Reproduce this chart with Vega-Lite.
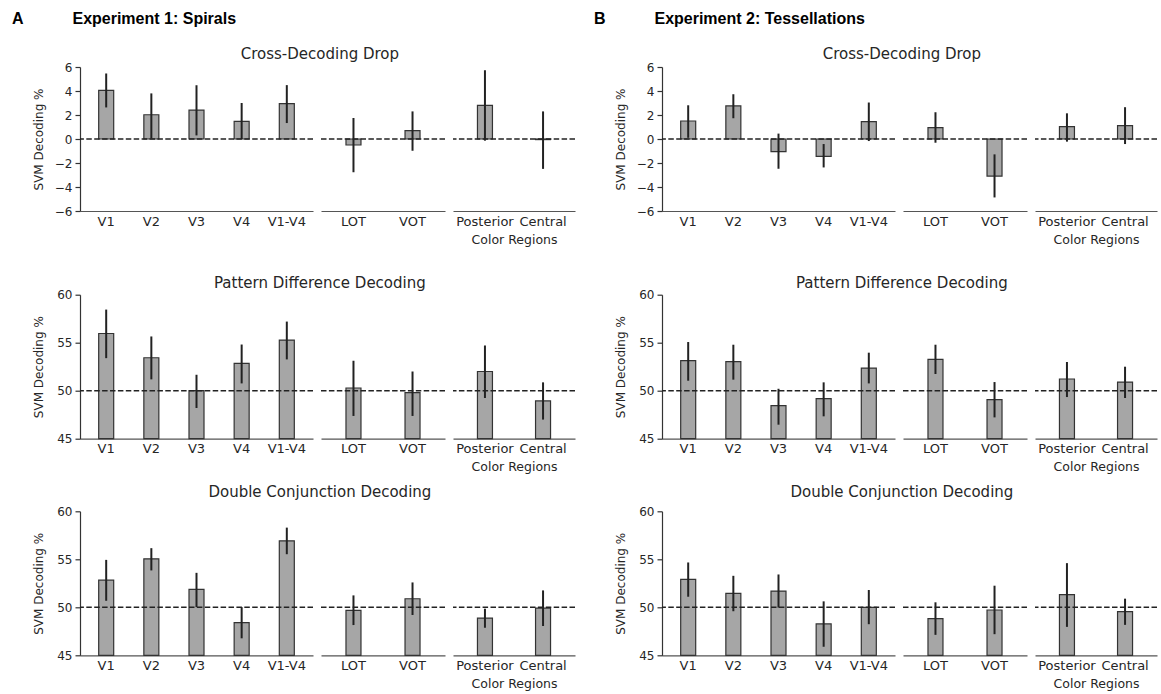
{
  "$schema": "https://vega.github.io/schema/vega-lite/v6.json",
  "padding": {"left": 12, "top": 10, "right": 2, "bottom": 2},
  "datasets": {
    "d": [
      {"exp": "E1", "measure": "cross", "grp": "early", "region": "V1", "mean": 4.05, "lo": 2.63, "hi": 5.46},
      {"exp": "E1", "measure": "cross", "grp": "early", "region": "V2", "mean": 2.02, "lo": 0.05, "hi": 3.8},
      {"exp": "E1", "measure": "cross", "grp": "early", "region": "V3", "mean": 2.41, "lo": 0.3, "hi": 4.48},
      {"exp": "E1", "measure": "cross", "grp": "early", "region": "V4", "mean": 1.47, "lo": 0.0, "hi": 3.0},
      {"exp": "E1", "measure": "cross", "grp": "early", "region": "V1-V4", "mean": 2.94, "lo": 1.33, "hi": 4.49},
      {"exp": "E1", "measure": "cross", "grp": "ot", "region": "LOT", "mean": -0.5, "lo": -2.77, "hi": 1.75},
      {"exp": "E1", "measure": "cross", "grp": "ot", "region": "VOT", "mean": 0.69, "lo": -0.98, "hi": 2.3},
      {"exp": "E1", "measure": "cross", "grp": "color", "region": "Posterior", "mean": 2.8, "lo": -0.14, "hi": 5.73},
      {"exp": "E1", "measure": "cross", "grp": "color", "region": "Central", "mean": -0.05, "lo": -2.49, "hi": 2.3},
      {"exp": "E2", "measure": "cross", "grp": "early", "region": "V1", "mean": 1.5, "lo": 0.1, "hi": 2.81},
      {"exp": "E2", "measure": "cross", "grp": "early", "region": "V2", "mean": 2.76, "lo": 1.73, "hi": 3.73},
      {"exp": "E2", "measure": "cross", "grp": "early", "region": "V3", "mean": -1.06, "lo": -2.48, "hi": 0.45},
      {"exp": "E2", "measure": "cross", "grp": "early", "region": "V4", "mean": -1.45, "lo": -2.37, "hi": -0.42},
      {"exp": "E2", "measure": "cross", "grp": "early", "region": "V1-V4", "mean": 1.45, "lo": -0.17, "hi": 3.04},
      {"exp": "E2", "measure": "cross", "grp": "ot", "region": "LOT", "mean": 0.95, "lo": -0.31, "hi": 2.23},
      {"exp": "E2", "measure": "cross", "grp": "ot", "region": "VOT", "mean": -3.09, "lo": -4.87, "hi": -1.28},
      {"exp": "E2", "measure": "cross", "grp": "color", "region": "Posterior", "mean": 1.03, "lo": -0.22, "hi": 2.14},
      {"exp": "E2", "measure": "cross", "grp": "color", "region": "Central", "mean": 1.11, "lo": -0.42, "hi": 2.65},
      {"exp": "E1", "measure": "pattern", "grp": "early", "region": "V1", "mean": 55.96, "lo": 53.39, "hi": 58.45},
      {"exp": "E1", "measure": "pattern", "grp": "early", "region": "V2", "mean": 53.43, "lo": 51.18, "hi": 55.65},
      {"exp": "E1", "measure": "pattern", "grp": "early", "region": "V3", "mean": 50.0, "lo": 48.2, "hi": 51.66},
      {"exp": "E1", "measure": "pattern", "grp": "early", "region": "V4", "mean": 52.84, "lo": 50.76, "hi": 54.81},
      {"exp": "E1", "measure": "pattern", "grp": "early", "region": "V1-V4", "mean": 55.27, "lo": 53.26, "hi": 57.2},
      {"exp": "E1", "measure": "pattern", "grp": "ot", "region": "LOT", "mean": 50.28, "lo": 47.37, "hi": 53.12},
      {"exp": "E1", "measure": "pattern", "grp": "ot", "region": "VOT", "mean": 49.79, "lo": 47.37, "hi": 52.0},
      {"exp": "E1", "measure": "pattern", "grp": "color", "region": "Posterior", "mean": 52.0, "lo": 49.24, "hi": 54.71},
      {"exp": "E1", "measure": "pattern", "grp": "color", "region": "Central", "mean": 48.93, "lo": 46.99, "hi": 50.87},
      {"exp": "E2", "measure": "pattern", "grp": "early", "region": "V1", "mean": 53.13, "lo": 51.04, "hi": 55.07},
      {"exp": "E2", "measure": "pattern", "grp": "early", "region": "V2", "mean": 53.02, "lo": 51.15, "hi": 54.79},
      {"exp": "E2", "measure": "pattern", "grp": "early", "region": "V3", "mean": 48.44, "lo": 46.46, "hi": 50.2},
      {"exp": "E2", "measure": "pattern", "grp": "early", "region": "V4", "mean": 49.17, "lo": 47.33, "hi": 50.87},
      {"exp": "E2", "measure": "pattern", "grp": "early", "region": "V1-V4", "mean": 52.36, "lo": 50.76, "hi": 53.96},
      {"exp": "E2", "measure": "pattern", "grp": "ot", "region": "LOT", "mean": 53.26, "lo": 51.74, "hi": 54.79},
      {"exp": "E2", "measure": "pattern", "grp": "ot", "region": "VOT", "mean": 49.06, "lo": 47.22, "hi": 50.9},
      {"exp": "E2", "measure": "pattern", "grp": "color", "region": "Posterior", "mean": 51.22, "lo": 49.34, "hi": 52.99},
      {"exp": "E2", "measure": "pattern", "grp": "color", "region": "Central", "mean": 50.9, "lo": 49.24, "hi": 52.5},
      {"exp": "E1", "measure": "double", "grp": "early", "region": "V1", "mean": 52.83, "lo": 50.68, "hi": 54.94},
      {"exp": "E1", "measure": "double", "grp": "early", "region": "V2", "mean": 55.05, "lo": 53.84, "hi": 56.16},
      {"exp": "E1", "measure": "double", "grp": "early", "region": "V3", "mean": 51.86, "lo": 50.02, "hi": 53.59},
      {"exp": "E1", "measure": "double", "grp": "early", "region": "V4", "mean": 48.4, "lo": 46.77, "hi": 50.02},
      {"exp": "E1", "measure": "double", "grp": "early", "region": "V1-V4", "mean": 56.92, "lo": 55.53, "hi": 58.3},
      {"exp": "E1", "measure": "double", "grp": "ot", "region": "LOT", "mean": 49.68, "lo": 48.15, "hi": 51.24},
      {"exp": "E1", "measure": "double", "grp": "ot", "region": "VOT", "mean": 50.89, "lo": 49.2, "hi": 52.59},
      {"exp": "E1", "measure": "double", "grp": "color", "region": "Posterior", "mean": 48.88, "lo": 47.87, "hi": 49.85},
      {"exp": "E1", "measure": "double", "grp": "color", "region": "Central", "mean": 49.92, "lo": 48.05, "hi": 51.76},
      {"exp": "E2", "measure": "double", "grp": "early", "region": "V1", "mean": 52.9, "lo": 51.1, "hi": 54.67},
      {"exp": "E2", "measure": "double", "grp": "early", "region": "V2", "mean": 51.45, "lo": 49.59, "hi": 53.28},
      {"exp": "E2", "measure": "double", "grp": "early", "region": "V3", "mean": 51.69, "lo": 49.97, "hi": 53.42},
      {"exp": "E2", "measure": "double", "grp": "early", "region": "V4", "mean": 48.27, "lo": 45.89, "hi": 50.62},
      {"exp": "E2", "measure": "double", "grp": "early", "region": "V1-V4", "mean": 50.0, "lo": 48.24, "hi": 51.8},
      {"exp": "E2", "measure": "double", "grp": "ot", "region": "LOT", "mean": 48.82, "lo": 47.13, "hi": 50.52},
      {"exp": "E2", "measure": "double", "grp": "ot", "region": "VOT", "mean": 49.72, "lo": 47.2, "hi": 52.25},
      {"exp": "E2", "measure": "double", "grp": "color", "region": "Posterior", "mean": 51.31, "lo": 47.96, "hi": 54.6},
      {"exp": "E2", "measure": "double", "grp": "color", "region": "Central", "mean": 49.55, "lo": 48.17, "hi": 50.9}
    ]
  },
  "config": {
    "font": "DejaVu Sans",
    "view": {"stroke": null},
    "axis": {"grid": false, "labelColor": "#262626", "titleColor": "#262626", "titleFontWeight": "normal", "titleFont": "DejaVu Sans", "labelFont": "DejaVu Sans", "domainColor": "#333333", "tickColor": "#333333", "domainWidth": 1.2, "tickWidth": 1.2},
    "axisX": {"ticks": false, "labelAngle": 0, "labelFontSize": 13, "labelPadding": 4, "titleFontSize": 12.5, "titlePadding": 5, "domainColor": "#555555"},
    "axisY": {"labelFontSize": 12, "tickSize": 5, "labelPadding": 3, "labelOverlap": false, "tickCount": 10, "titleFontSize": 12, "titlePadding": 9, "minExtent": 26, "maxExtent": 26},
    "title": {"font": "DejaVu Sans", "fontSize": 15, "fontWeight": "normal", "color": "#262626", "anchor": "middle"},
    "bar": {"fill": "#a6a6a6", "stroke": "#333333", "strokeWidth": 1.2, "width": 15}
  },
  "hconcat": [
    {
      "title": {"text": "A\u00a0\u00a0\u00a0\u00a0\u00a0\u00a0\u00a0\u00a0\u00a0\u00a0\u00a0Experiment 1: Spirals", "anchor": "start", "font": "Liberation Sans", "fontWeight": "bold", "fontSize": 16, "color": "#000000", "dx": -20, "offset": 20},
      "spacing": 29.7,
      "vconcat": [
        {"title": {"text": "Cross-Decoding Drop", "dx": 16, "offset": -0.6}, "spacing": 6, "hconcat": [
          {"width": 233, "height": 144, "layer": [
            {"data": {"name": "d"}, "transform": [{"filter": "datum.exp === 'E1' && datum.measure === 'cross' && datum.grp === 'early'"}], "mark": {"type": "bar"}, "encoding": {"x": {"field": "region", "type": "nominal", "sort": null, "scale": {"paddingInner": 0, "paddingOuter": 0.08}, "axis": {"title": null}}, "y": {"field": "mean", "type": "quantitative", "scale": {"domain": [-6, 6], "nice": false}, "axis": {"values": [-6, -4, -2, 0, 2, 4, 6], "tickCount": 13, "labelOverlap": false, "title": "SVM Decoding %"}}}},
            {"data": {"name": "d"}, "transform": [{"filter": "datum.exp === 'E1' && datum.measure === 'cross' && datum.grp === 'early'"}], "mark": {"type": "rule", "color": "#222222", "strokeWidth": 2}, "encoding": {"x": {"field": "region", "type": "nominal", "sort": null}, "y": {"field": "lo", "type": "quantitative"}, "y2": {"field": "hi"}}},
            {"data": {"values": [{}]}, "mark": {"type": "rule", "color": "#222222", "strokeWidth": 1.5, "strokeDash": [5.5, 2.4]}, "encoding": {"y": {"datum": 0}}}
          ]},
          {"width": 124, "height": 144, "layer": [
            {"data": {"name": "d"}, "transform": [{"filter": "datum.exp === 'E1' && datum.measure === 'cross' && datum.grp === 'ot'"}], "mark": {"type": "bar"}, "encoding": {"x": {"field": "region", "type": "nominal", "sort": null, "scale": {"paddingInner": 0, "paddingOuter": 0.05}, "axis": {"title": null}}, "y": {"field": "mean", "type": "quantitative", "scale": {"domain": [-6, 6], "nice": false}, "axis": null}}},
            {"data": {"name": "d"}, "transform": [{"filter": "datum.exp === 'E1' && datum.measure === 'cross' && datum.grp === 'ot'"}], "mark": {"type": "rule", "color": "#222222", "strokeWidth": 2}, "encoding": {"x": {"field": "region", "type": "nominal", "sort": null}, "y": {"field": "lo", "type": "quantitative"}, "y2": {"field": "hi"}}},
            {"data": {"values": [{}]}, "mark": {"type": "rule", "color": "#222222", "strokeWidth": 1.5, "strokeDash": [5.5, 2.4]}, "encoding": {"y": {"datum": 0}}}
          ]},
          {"width": 122, "height": 144, "layer": [
            {"data": {"name": "d"}, "transform": [{"filter": "datum.exp === 'E1' && datum.measure === 'cross' && datum.grp === 'color'"}], "mark": {"type": "bar"}, "encoding": {"x": {"field": "region", "type": "nominal", "sort": null, "scale": {"paddingInner": 0, "paddingOuter": 0.05}, "axis": {"title": "Color Regions"}}, "y": {"field": "mean", "type": "quantitative", "scale": {"domain": [-6, 6], "nice": false}, "axis": null}}},
            {"data": {"name": "d"}, "transform": [{"filter": "datum.exp === 'E1' && datum.measure === 'cross' && datum.grp === 'color'"}], "mark": {"type": "rule", "color": "#222222", "strokeWidth": 2}, "encoding": {"x": {"field": "region", "type": "nominal", "sort": null}, "y": {"field": "lo", "type": "quantitative"}, "y2": {"field": "hi"}}},
            {"data": {"values": [{}]}, "mark": {"type": "rule", "color": "#222222", "strokeWidth": 1.5, "strokeDash": [5.5, 2.4]}, "encoding": {"y": {"datum": 0}}}
          ]}
        ]},
        {"spacing": 11.6, "vconcat": [
        {"title": {"text": "Pattern Difference Decoding", "dx": 16, "offset": -2.3}, "spacing": 6, "hconcat": [
          {"width": 233, "height": 144, "layer": [
            {"data": {"name": "d"}, "transform": [{"filter": "datum.exp === 'E1' && datum.measure === 'pattern' && datum.grp === 'early'"}], "mark": {"type": "bar"}, "encoding": {"x": {"field": "region", "type": "nominal", "sort": null, "scale": {"paddingInner": 0, "paddingOuter": 0.08}, "axis": {"title": null}}, "y": {"field": "mean", "type": "quantitative", "scale": {"domain": [45, 60], "nice": false}, "axis": {"values": [45, 50, 55, 60], "tickCount": 13, "labelOverlap": false, "title": "SVM Decoding %"}}, "y2": {"datum": 45}}},
            {"data": {"name": "d"}, "transform": [{"filter": "datum.exp === 'E1' && datum.measure === 'pattern' && datum.grp === 'early'"}], "mark": {"type": "rule", "color": "#222222", "strokeWidth": 2}, "encoding": {"x": {"field": "region", "type": "nominal", "sort": null}, "y": {"field": "lo", "type": "quantitative"}, "y2": {"field": "hi"}}},
            {"data": {"values": [{}]}, "mark": {"type": "rule", "color": "#222222", "strokeWidth": 1.5, "strokeDash": [5.5, 2.4]}, "encoding": {"y": {"datum": 50}}}
          ]},
          {"width": 124, "height": 144, "layer": [
            {"data": {"name": "d"}, "transform": [{"filter": "datum.exp === 'E1' && datum.measure === 'pattern' && datum.grp === 'ot'"}], "mark": {"type": "bar"}, "encoding": {"x": {"field": "region", "type": "nominal", "sort": null, "scale": {"paddingInner": 0, "paddingOuter": 0.05}, "axis": {"title": null}}, "y": {"field": "mean", "type": "quantitative", "scale": {"domain": [45, 60], "nice": false}, "axis": null}, "y2": {"datum": 45}}},
            {"data": {"name": "d"}, "transform": [{"filter": "datum.exp === 'E1' && datum.measure === 'pattern' && datum.grp === 'ot'"}], "mark": {"type": "rule", "color": "#222222", "strokeWidth": 2}, "encoding": {"x": {"field": "region", "type": "nominal", "sort": null}, "y": {"field": "lo", "type": "quantitative"}, "y2": {"field": "hi"}}},
            {"data": {"values": [{}]}, "mark": {"type": "rule", "color": "#222222", "strokeWidth": 1.5, "strokeDash": [5.5, 2.4]}, "encoding": {"y": {"datum": 50}}}
          ]},
          {"width": 122, "height": 144, "layer": [
            {"data": {"name": "d"}, "transform": [{"filter": "datum.exp === 'E1' && datum.measure === 'pattern' && datum.grp === 'color'"}], "mark": {"type": "bar"}, "encoding": {"x": {"field": "region", "type": "nominal", "sort": null, "scale": {"paddingInner": 0, "paddingOuter": 0.05}, "axis": {"title": "Color Regions"}}, "y": {"field": "mean", "type": "quantitative", "scale": {"domain": [45, 60], "nice": false}, "axis": null}, "y2": {"datum": 45}}},
            {"data": {"name": "d"}, "transform": [{"filter": "datum.exp === 'E1' && datum.measure === 'pattern' && datum.grp === 'color'"}], "mark": {"type": "rule", "color": "#222222", "strokeWidth": 2}, "encoding": {"x": {"field": "region", "type": "nominal", "sort": null}, "y": {"field": "lo", "type": "quantitative"}, "y2": {"field": "hi"}}},
            {"data": {"values": [{}]}, "mark": {"type": "rule", "color": "#222222", "strokeWidth": 1.5, "strokeDash": [5.5, 2.4]}, "encoding": {"y": {"datum": 50}}}
          ]}
        ]},
        {"title": {"text": "Double Conjunction Decoding", "dx": 16, "offset": 5}, "spacing": 6, "hconcat": [
          {"width": 233, "height": 144, "layer": [
            {"data": {"name": "d"}, "transform": [{"filter": "datum.exp === 'E1' && datum.measure === 'double' && datum.grp === 'early'"}], "mark": {"type": "bar"}, "encoding": {"x": {"field": "region", "type": "nominal", "sort": null, "scale": {"paddingInner": 0, "paddingOuter": 0.08}, "axis": {"title": null}}, "y": {"field": "mean", "type": "quantitative", "scale": {"domain": [45, 60], "nice": false}, "axis": {"values": [45, 50, 55, 60], "tickCount": 13, "labelOverlap": false, "title": "SVM Decoding %"}}, "y2": {"datum": 45}}},
            {"data": {"name": "d"}, "transform": [{"filter": "datum.exp === 'E1' && datum.measure === 'double' && datum.grp === 'early'"}], "mark": {"type": "rule", "color": "#222222", "strokeWidth": 2}, "encoding": {"x": {"field": "region", "type": "nominal", "sort": null}, "y": {"field": "lo", "type": "quantitative"}, "y2": {"field": "hi"}}},
            {"data": {"values": [{}]}, "mark": {"type": "rule", "color": "#222222", "strokeWidth": 1.5, "strokeDash": [5.5, 2.4]}, "encoding": {"y": {"datum": 50}}}
          ]},
          {"width": 124, "height": 144, "layer": [
            {"data": {"name": "d"}, "transform": [{"filter": "datum.exp === 'E1' && datum.measure === 'double' && datum.grp === 'ot'"}], "mark": {"type": "bar"}, "encoding": {"x": {"field": "region", "type": "nominal", "sort": null, "scale": {"paddingInner": 0, "paddingOuter": 0.05}, "axis": {"title": null}}, "y": {"field": "mean", "type": "quantitative", "scale": {"domain": [45, 60], "nice": false}, "axis": null}, "y2": {"datum": 45}}},
            {"data": {"name": "d"}, "transform": [{"filter": "datum.exp === 'E1' && datum.measure === 'double' && datum.grp === 'ot'"}], "mark": {"type": "rule", "color": "#222222", "strokeWidth": 2}, "encoding": {"x": {"field": "region", "type": "nominal", "sort": null}, "y": {"field": "lo", "type": "quantitative"}, "y2": {"field": "hi"}}},
            {"data": {"values": [{}]}, "mark": {"type": "rule", "color": "#222222", "strokeWidth": 1.5, "strokeDash": [5.5, 2.4]}, "encoding": {"y": {"datum": 50}}}
          ]},
          {"width": 122, "height": 144, "layer": [
            {"data": {"name": "d"}, "transform": [{"filter": "datum.exp === 'E1' && datum.measure === 'double' && datum.grp === 'color'"}], "mark": {"type": "bar"}, "encoding": {"x": {"field": "region", "type": "nominal", "sort": null, "scale": {"paddingInner": 0, "paddingOuter": 0.05}, "axis": {"title": "Color Regions"}}, "y": {"field": "mean", "type": "quantitative", "scale": {"domain": [45, 60], "nice": false}, "axis": null}, "y2": {"datum": 45}}},
            {"data": {"name": "d"}, "transform": [{"filter": "datum.exp === 'E1' && datum.measure === 'double' && datum.grp === 'color'"}], "mark": {"type": "rule", "color": "#222222", "strokeWidth": 2}, "encoding": {"x": {"field": "region", "type": "nominal", "sort": null}, "y": {"field": "lo", "type": "quantitative"}, "y2": {"field": "hi"}}},
            {"data": {"values": [{}]}, "mark": {"type": "rule", "color": "#222222", "strokeWidth": 1.5, "strokeDash": [5.5, 2.4]}, "encoding": {"y": {"datum": 50}}}
          ]}
        ]}
        ]}
      ]
    },
    {
      "title": {"text": "B\u00a0\u00a0\u00a0\u00a0\u00a0\u00a0\u00a0\u00a0\u00a0\u00a0\u00a0Experiment 2: Tessellations", "anchor": "start", "font": "Liberation Sans", "fontWeight": "bold", "fontSize": 16, "color": "#000000", "dx": -20, "offset": 20},
      "spacing": 29.7,
      "vconcat": [
        {"title": {"text": "Cross-Decoding Drop", "dx": 16, "offset": -0.6}, "spacing": 6, "hconcat": [
          {"width": 233, "height": 144, "layer": [
            {"data": {"name": "d"}, "transform": [{"filter": "datum.exp === 'E2' && datum.measure === 'cross' && datum.grp === 'early'"}], "mark": {"type": "bar"}, "encoding": {"x": {"field": "region", "type": "nominal", "sort": null, "scale": {"paddingInner": 0, "paddingOuter": 0.08}, "axis": {"title": null}}, "y": {"field": "mean", "type": "quantitative", "scale": {"domain": [-6, 6], "nice": false}, "axis": {"values": [-6, -4, -2, 0, 2, 4, 6], "tickCount": 13, "labelOverlap": false, "title": "SVM Decoding %"}}}},
            {"data": {"name": "d"}, "transform": [{"filter": "datum.exp === 'E2' && datum.measure === 'cross' && datum.grp === 'early'"}], "mark": {"type": "rule", "color": "#222222", "strokeWidth": 2}, "encoding": {"x": {"field": "region", "type": "nominal", "sort": null}, "y": {"field": "lo", "type": "quantitative"}, "y2": {"field": "hi"}}},
            {"data": {"values": [{}]}, "mark": {"type": "rule", "color": "#222222", "strokeWidth": 1.5, "strokeDash": [5.5, 2.4]}, "encoding": {"y": {"datum": 0}}}
          ]},
          {"width": 124, "height": 144, "layer": [
            {"data": {"name": "d"}, "transform": [{"filter": "datum.exp === 'E2' && datum.measure === 'cross' && datum.grp === 'ot'"}], "mark": {"type": "bar"}, "encoding": {"x": {"field": "region", "type": "nominal", "sort": null, "scale": {"paddingInner": 0, "paddingOuter": 0.05}, "axis": {"title": null}}, "y": {"field": "mean", "type": "quantitative", "scale": {"domain": [-6, 6], "nice": false}, "axis": null}}},
            {"data": {"name": "d"}, "transform": [{"filter": "datum.exp === 'E2' && datum.measure === 'cross' && datum.grp === 'ot'"}], "mark": {"type": "rule", "color": "#222222", "strokeWidth": 2}, "encoding": {"x": {"field": "region", "type": "nominal", "sort": null}, "y": {"field": "lo", "type": "quantitative"}, "y2": {"field": "hi"}}},
            {"data": {"values": [{}]}, "mark": {"type": "rule", "color": "#222222", "strokeWidth": 1.5, "strokeDash": [5.5, 2.4]}, "encoding": {"y": {"datum": 0}}}
          ]},
          {"width": 122, "height": 144, "layer": [
            {"data": {"name": "d"}, "transform": [{"filter": "datum.exp === 'E2' && datum.measure === 'cross' && datum.grp === 'color'"}], "mark": {"type": "bar"}, "encoding": {"x": {"field": "region", "type": "nominal", "sort": null, "scale": {"paddingInner": 0, "paddingOuter": 0.05}, "axis": {"title": "Color Regions"}}, "y": {"field": "mean", "type": "quantitative", "scale": {"domain": [-6, 6], "nice": false}, "axis": null}}},
            {"data": {"name": "d"}, "transform": [{"filter": "datum.exp === 'E2' && datum.measure === 'cross' && datum.grp === 'color'"}], "mark": {"type": "rule", "color": "#222222", "strokeWidth": 2}, "encoding": {"x": {"field": "region", "type": "nominal", "sort": null}, "y": {"field": "lo", "type": "quantitative"}, "y2": {"field": "hi"}}},
            {"data": {"values": [{}]}, "mark": {"type": "rule", "color": "#222222", "strokeWidth": 1.5, "strokeDash": [5.5, 2.4]}, "encoding": {"y": {"datum": 0}}}
          ]}
        ]},
        {"spacing": 11.6, "vconcat": [
        {"title": {"text": "Pattern Difference Decoding", "dx": 16, "offset": -2.3}, "spacing": 6, "hconcat": [
          {"width": 233, "height": 144, "layer": [
            {"data": {"name": "d"}, "transform": [{"filter": "datum.exp === 'E2' && datum.measure === 'pattern' && datum.grp === 'early'"}], "mark": {"type": "bar"}, "encoding": {"x": {"field": "region", "type": "nominal", "sort": null, "scale": {"paddingInner": 0, "paddingOuter": 0.08}, "axis": {"title": null}}, "y": {"field": "mean", "type": "quantitative", "scale": {"domain": [45, 60], "nice": false}, "axis": {"values": [45, 50, 55, 60], "tickCount": 13, "labelOverlap": false, "title": "SVM Decoding %"}}, "y2": {"datum": 45}}},
            {"data": {"name": "d"}, "transform": [{"filter": "datum.exp === 'E2' && datum.measure === 'pattern' && datum.grp === 'early'"}], "mark": {"type": "rule", "color": "#222222", "strokeWidth": 2}, "encoding": {"x": {"field": "region", "type": "nominal", "sort": null}, "y": {"field": "lo", "type": "quantitative"}, "y2": {"field": "hi"}}},
            {"data": {"values": [{}]}, "mark": {"type": "rule", "color": "#222222", "strokeWidth": 1.5, "strokeDash": [5.5, 2.4]}, "encoding": {"y": {"datum": 50}}}
          ]},
          {"width": 124, "height": 144, "layer": [
            {"data": {"name": "d"}, "transform": [{"filter": "datum.exp === 'E2' && datum.measure === 'pattern' && datum.grp === 'ot'"}], "mark": {"type": "bar"}, "encoding": {"x": {"field": "region", "type": "nominal", "sort": null, "scale": {"paddingInner": 0, "paddingOuter": 0.05}, "axis": {"title": null}}, "y": {"field": "mean", "type": "quantitative", "scale": {"domain": [45, 60], "nice": false}, "axis": null}, "y2": {"datum": 45}}},
            {"data": {"name": "d"}, "transform": [{"filter": "datum.exp === 'E2' && datum.measure === 'pattern' && datum.grp === 'ot'"}], "mark": {"type": "rule", "color": "#222222", "strokeWidth": 2}, "encoding": {"x": {"field": "region", "type": "nominal", "sort": null}, "y": {"field": "lo", "type": "quantitative"}, "y2": {"field": "hi"}}},
            {"data": {"values": [{}]}, "mark": {"type": "rule", "color": "#222222", "strokeWidth": 1.5, "strokeDash": [5.5, 2.4]}, "encoding": {"y": {"datum": 50}}}
          ]},
          {"width": 122, "height": 144, "layer": [
            {"data": {"name": "d"}, "transform": [{"filter": "datum.exp === 'E2' && datum.measure === 'pattern' && datum.grp === 'color'"}], "mark": {"type": "bar"}, "encoding": {"x": {"field": "region", "type": "nominal", "sort": null, "scale": {"paddingInner": 0, "paddingOuter": 0.05}, "axis": {"title": "Color Regions"}}, "y": {"field": "mean", "type": "quantitative", "scale": {"domain": [45, 60], "nice": false}, "axis": null}, "y2": {"datum": 45}}},
            {"data": {"name": "d"}, "transform": [{"filter": "datum.exp === 'E2' && datum.measure === 'pattern' && datum.grp === 'color'"}], "mark": {"type": "rule", "color": "#222222", "strokeWidth": 2}, "encoding": {"x": {"field": "region", "type": "nominal", "sort": null}, "y": {"field": "lo", "type": "quantitative"}, "y2": {"field": "hi"}}},
            {"data": {"values": [{}]}, "mark": {"type": "rule", "color": "#222222", "strokeWidth": 1.5, "strokeDash": [5.5, 2.4]}, "encoding": {"y": {"datum": 50}}}
          ]}
        ]},
        {"title": {"text": "Double Conjunction Decoding", "dx": 16, "offset": 5}, "spacing": 6, "hconcat": [
          {"width": 233, "height": 144, "layer": [
            {"data": {"name": "d"}, "transform": [{"filter": "datum.exp === 'E2' && datum.measure === 'double' && datum.grp === 'early'"}], "mark": {"type": "bar"}, "encoding": {"x": {"field": "region", "type": "nominal", "sort": null, "scale": {"paddingInner": 0, "paddingOuter": 0.08}, "axis": {"title": null}}, "y": {"field": "mean", "type": "quantitative", "scale": {"domain": [45, 60], "nice": false}, "axis": {"values": [45, 50, 55, 60], "tickCount": 13, "labelOverlap": false, "title": "SVM Decoding %"}}, "y2": {"datum": 45}}},
            {"data": {"name": "d"}, "transform": [{"filter": "datum.exp === 'E2' && datum.measure === 'double' && datum.grp === 'early'"}], "mark": {"type": "rule", "color": "#222222", "strokeWidth": 2}, "encoding": {"x": {"field": "region", "type": "nominal", "sort": null}, "y": {"field": "lo", "type": "quantitative"}, "y2": {"field": "hi"}}},
            {"data": {"values": [{}]}, "mark": {"type": "rule", "color": "#222222", "strokeWidth": 1.5, "strokeDash": [5.5, 2.4]}, "encoding": {"y": {"datum": 50}}}
          ]},
          {"width": 124, "height": 144, "layer": [
            {"data": {"name": "d"}, "transform": [{"filter": "datum.exp === 'E2' && datum.measure === 'double' && datum.grp === 'ot'"}], "mark": {"type": "bar"}, "encoding": {"x": {"field": "region", "type": "nominal", "sort": null, "scale": {"paddingInner": 0, "paddingOuter": 0.05}, "axis": {"title": null}}, "y": {"field": "mean", "type": "quantitative", "scale": {"domain": [45, 60], "nice": false}, "axis": null}, "y2": {"datum": 45}}},
            {"data": {"name": "d"}, "transform": [{"filter": "datum.exp === 'E2' && datum.measure === 'double' && datum.grp === 'ot'"}], "mark": {"type": "rule", "color": "#222222", "strokeWidth": 2}, "encoding": {"x": {"field": "region", "type": "nominal", "sort": null}, "y": {"field": "lo", "type": "quantitative"}, "y2": {"field": "hi"}}},
            {"data": {"values": [{}]}, "mark": {"type": "rule", "color": "#222222", "strokeWidth": 1.5, "strokeDash": [5.5, 2.4]}, "encoding": {"y": {"datum": 50}}}
          ]},
          {"width": 122, "height": 144, "layer": [
            {"data": {"name": "d"}, "transform": [{"filter": "datum.exp === 'E2' && datum.measure === 'double' && datum.grp === 'color'"}], "mark": {"type": "bar"}, "encoding": {"x": {"field": "region", "type": "nominal", "sort": null, "scale": {"paddingInner": 0, "paddingOuter": 0.05}, "axis": {"title": "Color Regions"}}, "y": {"field": "mean", "type": "quantitative", "scale": {"domain": [45, 60], "nice": false}, "axis": null}, "y2": {"datum": 45}}},
            {"data": {"name": "d"}, "transform": [{"filter": "datum.exp === 'E2' && datum.measure === 'double' && datum.grp === 'color'"}], "mark": {"type": "rule", "color": "#222222", "strokeWidth": 2}, "encoding": {"x": {"field": "region", "type": "nominal", "sort": null}, "y": {"field": "lo", "type": "quantitative"}, "y2": {"field": "hi"}}},
            {"data": {"values": [{}]}, "mark": {"type": "rule", "color": "#222222", "strokeWidth": 1.5, "strokeDash": [5.5, 2.4]}, "encoding": {"y": {"datum": 50}}}
          ]}
        ]}
        ]}
      ]
    }
  ],
  "spacing": 18
}
